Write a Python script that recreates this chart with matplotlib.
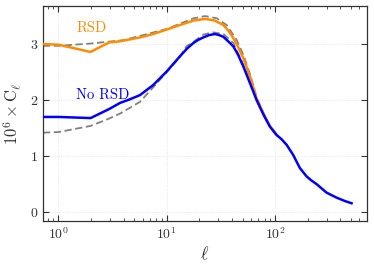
import matplotlib
matplotlib.use("Agg")
import matplotlib.pyplot as plt

plt.rcParams['font.family'] = ['cmr10']
plt.rcParams['mathtext.fontset'] = 'cm'
plt.rcParams['axes.formatter.use_mathtext'] = True

# No RSD (measured, blue)
ell_norsd = [0.72, 1.0, 1.98, 2.93, 3.70, 4.5, 5.66, 7.5, 9.96, 13.2, 15.2, 17.6, 19.7, 21.8, 24.5, 27.8, 30.5, 33.3, 38.3, 41.1, 45.5, 50.9, 58.7, 67.5, 78.1, 89.3, 103, 115, 128, 147, 169, 195, 215, 242, 298, 369, 440, 508]
cl_norsd = [1.69, 1.69, 1.67, 1.83, 1.94, 2.00, 2.08, 2.26, 2.50, 2.77, 2.90, 3.01, 3.07, 3.11, 3.15, 3.17, 3.15, 3.12, 3.01, 2.95, 2.80, 2.59, 2.29, 1.99, 1.73, 1.52, 1.37, 1.29, 1.19, 1.01, 0.78, 0.63, 0.56, 0.49, 0.34, 0.25, 0.19, 0.15]

# RSD (measured, orange)
ell_rsd = [0.72, 1.0, 1.98, 2.93, 3.70, 5.66, 7.5, 9.3, 13.2, 17.6, 22.6, 27.8, 33.3, 37.0, 41.1, 45.5, 50.9, 58.7, 67.5, 78.1, 89.3, 103]
cl_rsd = [2.99, 2.98, 2.85, 3.02, 3.04, 3.11, 3.17, 3.23, 3.33, 3.41, 3.44, 3.41, 3.33, 3.23, 3.10, 2.94, 2.74, 2.41, 2.02, 1.75, 1.53, 1.37]

# Theory (gray dashed)
ell_th_rsd = [0.72, 1.0, 1.98, 3.97, 10.0, 17.6, 22.6, 29.0, 35.7, 44.0, 50.9, 58.7, 67.5, 78.1, 89.3, 103]
cl_th_rsd = [2.96, 2.96, 3.00, 3.06, 3.26, 3.45, 3.49, 3.45, 3.33, 3.07, 2.80, 2.45, 2.04, 1.76, 1.54, 1.37]
ell_th_norsd = [0.72, 1.0, 1.98, 2.93, 3.70, 5.66, 7.5, 10.0, 13.2, 15.2, 17.6, 21.8, 26.6, 33.3, 41.1, 50.9, 58.7, 67.5, 78.1, 89.3, 103]
cl_th_norsd = [1.41, 1.42, 1.53, 1.66, 1.75, 1.96, 2.22, 2.49, 2.76, 2.95, 3.03, 3.16, 3.20, 3.17, 3.01, 2.62, 2.31, 2.00, 1.74, 1.53, 1.37]

fig = plt.figure(figsize=(3.74, 2.69), dpi=100)
ax = fig.add_axes([43/374, 1 - 221/269, (367-43)/374, (221-6)/269])

ax.plot(ell_th_rsd, cl_th_rsd, color='#808080', ls=(0, (4, 2)), lw=1.3, zorder=2)
ax.plot(ell_th_norsd, cl_th_norsd, color='#808080', ls=(0, (4, 2)), lw=1.3, zorder=2)
ax.plot(ell_rsd, cl_rsd, color='#FF8C00', lw=1.8, zorder=3)
ax.plot(ell_norsd, cl_norsd, color='#0000FF', lw=1.8, zorder=4)

ax.set_xscale('log')
ax.set_xlim(0.72, 705)
ax.set_ylim(-0.167, 3.67)
ax.set_yticks([0, 1, 2, 3])
ax.grid(True, which='major', color='#e0e0e0', ls=':', lw=0.6)
ax.tick_params(which='both', direction='in', top=True, right=True, labelsize=10, colors='#333333', labelcolor='#333333')
ax.tick_params(which='major', length=4)
ax.tick_params(which='minor', length=2)
for s in ax.spines.values():
    s.set_color('#333333')
    s.set_linewidth(0.9)

ax.set_xlabel(r'$\ell$', fontsize=13, color='#333333', labelpad=2)
ax.set_ylabel(r'$10^6 \times \mathrm{C}_\ell$', fontsize=12, color='#333333', labelpad=4)

ax.text(0.102, 0.899, 'RSD', transform=ax.transAxes, color='#FF8C00', fontsize=10.5, ha='left', va='center')
ax.text(0.102, 0.586, 'No RSD', transform=ax.transAxes, color='#0000FF', fontsize=10.5, ha='left', va='center')

fig.savefig('out.png', dpi=100)
